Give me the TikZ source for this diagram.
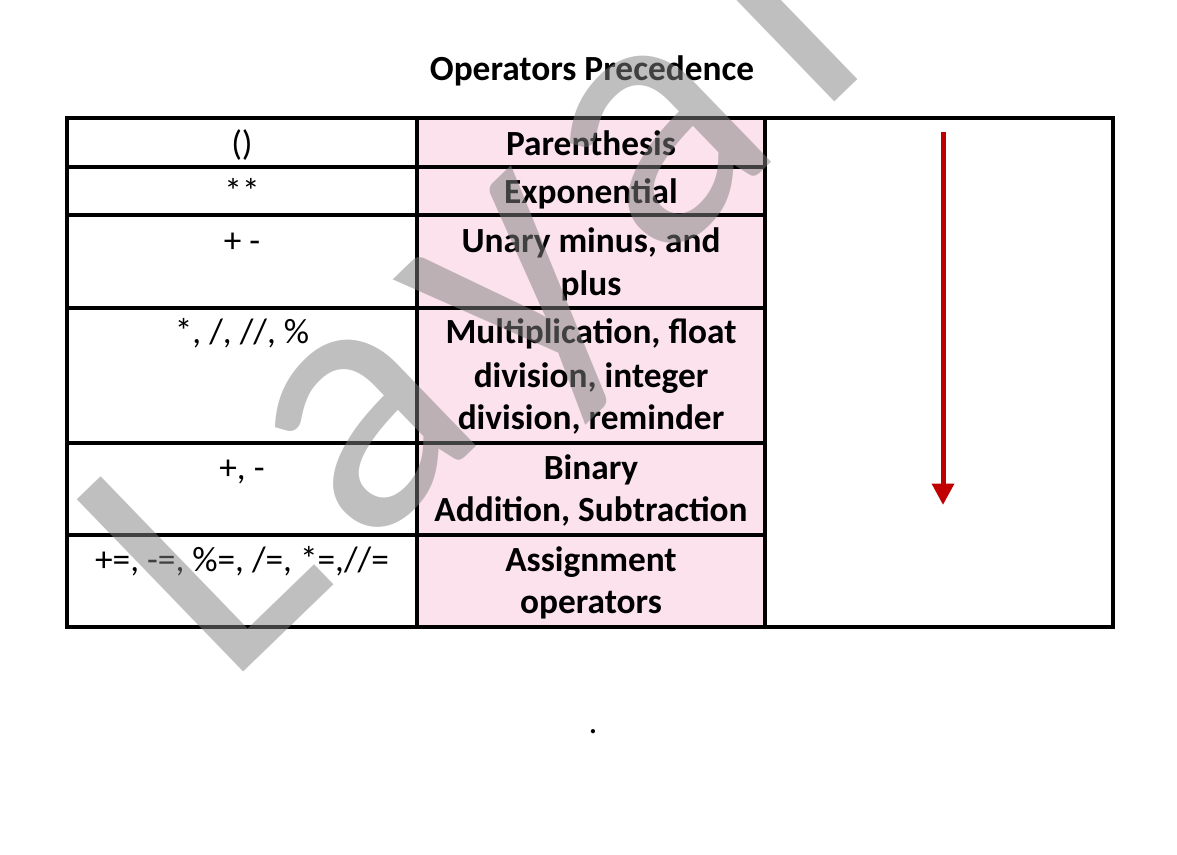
\documentclass[tikz,border=0pt]{standalone}
\usepackage{fontspec}
\usetikzlibrary{arrows.meta}
\setmainfont{Carlito}
\newfontfamily\wmfont[LetterSpace=10]{Carlito}
\definecolor{cellpink}{RGB}{252,226,236}
\definecolor{arrowred}{RGB}{192,0,0}
\begin{document}
\begin{tikzpicture}[x=0.75pt,y=-0.75pt,
  txt/.style={anchor=base,font=\fontsize{26.5}{31.5}\selectfont,inner sep=0},
  btxt/.style={txt,font=\fontsize{26.5}{31.5}\selectfont\bfseries},
  grid/.style={line width=3pt}]
\useasboundingbox (0,0) rectangle (1177,855);
\fill[white] (0,0) rectangle (1177,855);
\fill[cellpink] (417,118) rectangle (765,627);
% table
\draw[grid] (67,118) rectangle (1113,627);
\foreach \y in {167,215,308,443,535} \draw[grid] (67,\y) -- (765,\y);
\draw[grid] (417,118) -- (417,627);
\draw[grid] (765,118) -- (765,627);
% title
\node[btxt] (title) at (592,81) {Operators Precedence};
% col1
\node[txt] (o1) at (242,156) {()};
\node[txt] (o2) at (242,204) {**};
\node[txt] (o3) at (242,253) {+ -};
\node[txt] (o4) at (242,344) {*, /, //, \%};
\node[txt] (o5) at (242,479) {+, -};
\node[txt] (o6) at (242,571) {+=, -=, \%=, /=, *=,//=};
% col2
\node[btxt] (d1) at (591,156) {Parenthesis};
\node[btxt] (d2) at (591,204) {Exponential};
\node[btxt] (d3) at (591,253) {Unary minus, and};
\node[btxt] (d3b) at (591,296) {plus};
\node[btxt] (d4) at (591,344) {Multiplication, float};
\node[btxt] (d4b) at (591,387) {division, integer};
\node[btxt] (d4c) at (591,429) {division, reminder};
\node[btxt] (d5) at (591,479) {Binary};
\node[btxt] (d5b) at (591,521) {Addition, Subtraction};
\node[btxt] (d6) at (591,571) {Assignment};
\node[btxt] (d6b) at (591,613) {operators};
% arrow
\coordinate (a1) at (943,132);
\coordinate (a2) at (943,505);
\draw[arrowred,line width=3.75pt,-{Triangle[length=16pt,width=16pt]}] (a1) -- (a2);
\node[txt] (dot) at (593,733) {.};
% watermark
\node[anchor=base west,inner sep=0,rotate=44,text=black!50,opacity=0.5,
  font=\wmfont\fontsize{280}{280}\selectfont] (wm) at (225,690) {Layal};
\end{tikzpicture}
\end{document}
